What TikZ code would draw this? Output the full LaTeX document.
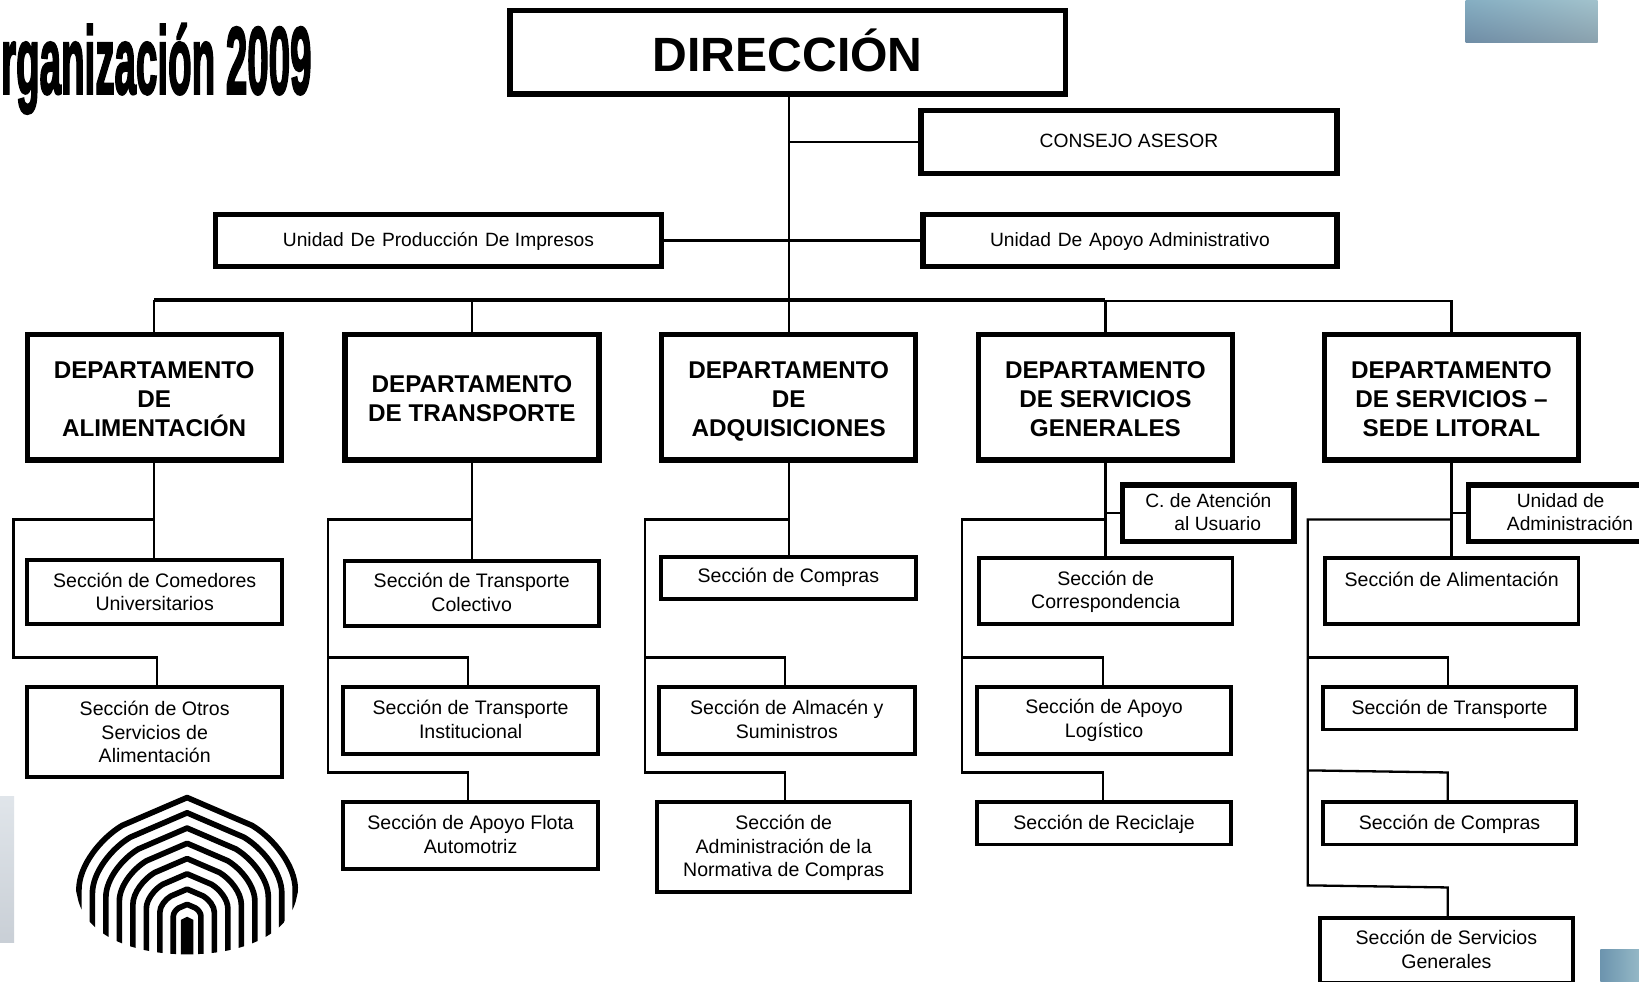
\documentclass[tikz,border=0pt]{standalone}
\usepackage{fontspec}
\usetikzlibrary{shadings}
\setmainfont{Liberation Sans}
\newfontfamily\ttlfont[FakeBold=3]{Liberation Sans Bold}
\definecolor{tlA}{HTML}{85AEC2}
\definecolor{tlB}{HTML}{A2C2CC}
\definecolor{tlC}{HTML}{6F8DA6}
\definecolor{tlD}{HTML}{8BA2AE}
\definecolor{brA}{HTML}{6C94AE}
\definecolor{brB}{HTML}{94B8C6}
\definecolor{lfA}{HTML}{C9CFD6}
\definecolor{lfB}{HTML}{E0E5EA}
\tikzset{
  x=1pt,y=-1pt,
  basebox/.style={draw=black,fill=white,inner sep=0pt,outer sep=0pt,align=center,text=black},
  headbox/.style={basebox,line width=5pt,font=\fontsize{46}{50}\selectfont\bfseries},
  deptbox/.style={basebox,line width=5pt,font=\fontsize{23.2}{27.7}\selectfont\bfseries},
  unitbox/.style={basebox,line width=5pt,font=\fontsize{18.4}{22}\selectfont},
  secbox/.style={basebox,line width=3.6pt,font=\fontsize{18.7}{22.3}\selectfont},
  conn/.style={draw=black,line width=2.2pt},
  bus/.style={draw=black,line width=3.2pt},
  stripe/.style={draw=black,line width=5.4pt,line join=round}
}
\newcommand\bxnode[6]{%
  \pgfmathsetmacro\bxw{#4-#2}\pgfmathsetmacro\bxh{#5-#3}%
  \pgfmathsetmacro\bxcx{(#2+#4)/2}\pgfmathsetmacro\bxcy{(#3+#5)/2}%
  \node[#1,minimum width=\bxw pt,minimum height=\bxh pt] (#6) at (\bxcx,\bxcy)}
% text nudges: extra height above the first line, or extra depth below the last
\newcommand\nudgedn[1]{\rule{0pt}{\dimexpr 14pt+#1\relax}}
\newcommand\nudgeup[1]{\rule[-#1]{0pt}{#1}}
\newcommand\dtop{\rule{0pt}{19.5pt}}
\newcommand\gapsp{\hspace{6.5pt}}
\begin{document}
\begin{tikzpicture}
\useasboundingbox (0,0) rectangle (1568,939.4);
\fill[white] (0,0) rectangle (1568,939.4);
% corner decorations
\shade[lower left=tlC,upper left=tlA,lower right=tlD,upper right=tlB] (1402,0) rectangle (1528.5,40.5);
\shade[lower left=brA,upper left=brA,lower right=brB,upper right=brB] (1531,908) rectangle (1568,939.4);
\shade[top color=lfB,bottom color=lfA] (0,762) rectangle (13.6,902);
% title
\node[anchor=base west,inner sep=0pt,xscale=.405,font=\fontsize{91}{91}\selectfont\ttlfont] (titulo) at (1,89.5) {rganización 2009};
% logo
\begin{scope}
\clip (70,840) -- (75,862) .. controls (85,897) and (130,913) .. (179,913) .. controls (228,913) and (273,897) .. (283,862) -- (288,840) -- (288,750) -- (70,750) -- cycle;
\foreach \k in {0,...,7}{
  \pgfmathsetmacro\w{103.5-12.9*\k}
  \pgfmathsetmacro\ap{763+14.6*\k}
  \pgfmathsetmacro\sx{0.6*\w}
  \pgfmathsetmacro\sy{\ap+0.43*\sx}
  \pgfmathsetmacro\by{\ap+0.85*\w}
  \draw[stripe] (179-\w,925) -- (179-\w,\by)
    .. controls (179-\w,\by-0.22*\w) and (179-\sx-0.2*\w,\sy+0.12*\w) .. (179-\sx,\sy)
    -- (179,\ap) -- (179+\sx,\sy)
    .. controls (179+\sx+0.2*\w,\sy+0.12*\w) and (179+\w,\by-0.22*\w) .. (179+\w,\by)
    -- (179+\w,925);
}
\fill[black] (173,880) -- (179,877) -- (185,880) -- (185,925) -- (173,925) -- cycle;
\end{scope}
% boxes
\bxnode{headbox}{488}{10}{1019}{90}{dir} {DIRECCIÓN\nudgeup{4pt}};
\bxnode{unitbox}{881}{106}{1279}{166}{cons} {CONSEJO ASESOR\nudgeup{2pt}};
\bxnode{unitbox}{206}{205}{633}{255}{uimp} {\nudgedn{2pt}Unidad\gapsp De\gapsp Producción\gapsp De Impresos};
\bxnode{unitbox}{883}{205}{1279}{255}{uapo} {\nudgedn{2pt}Unidad\gapsp De\gapsp Apoyo Administrativo};
\bxnode{deptbox}{26}{320}{269}{440}{d1} {\dtop DEPARTAMENTO\\DE\\ALIMENTACIÓN};
\bxnode{deptbox}{330}{320}{573}{440}{d2} {\dtop DEPARTAMENTO\\DE TRANSPORTE};
\bxnode{deptbox}{633}{320}{876}{440}{d3} {\dtop DEPARTAMENTO\\DE\\\smash{ADQUISICIONES}};
\bxnode{deptbox}{936}{320}{1179}{440}{d4} {\dtop DEPARTAMENTO\\DE SERVICIOS\\GENERALES};
\bxnode{deptbox}{1267}{320}{1510}{440}{d5} {\dtop DEPARTAMENTO\\DE SERVICIOS –\\SEDE LITORAL};
% sections
\bxnode{secbox}{26}{535.5}{270}{597}{s11} {Sección de Comedores\\Universitarios};
\bxnode{secbox}{26}{657.5}{270}{743}{s12} {Sección de Otros\\Servicios de\\Alimentación};
\bxnode{secbox}{329.5}{536.5}{573}{599}{s21} {Sección de Transporte\\Colectivo\nudgeup{2pt}};
\bxnode{secbox}{328.5}{657.5}{572}{721}{s22} {Sección de Transporte\\Institucional\nudgeup{2pt}};
\bxnode{secbox}{328.5}{767.5}{572}{831}{s23} {Sección de Apoyo Flota\\Automotriz\nudgeup{2pt}};
\bxnode{secbox}{632.5}{532.5}{876}{573}{s31} {\nudgeup{2pt}Sección de Compras};
\bxnode{secbox}{630.5}{657.5}{875}{721}{s32} {Sección de Almacén y\\Suministros\nudgeup{2pt}};
\bxnode{secbox}{628.5}{767.5}{871}{853}{s33} {\nudgedn{2pt}Sección de\\Administración de la\\Normativa de Compras};
\bxnode{secbox}{936.5}{533.5}{1179}{597}{s41} {\nudgedn{2pt}Sección de\\Correspondencia};
\bxnode{secbox}{934.5}{657.5}{1178}{721}{s42} {Sección de Apoyo\\Logístico};
\bxnode{secbox}{934.5}{767.5}{1178}{808}{s43} {\nudgedn{2pt}Sección de Reciclaje};
\bxnode{unitbox}{1074}{464}{1238}{518}{cau} {C. de Atención\\\hspace*{18pt}al Usuario\nudgeup{3pt}};
\bxnode{secbox}{1267.5}{533.5}{1510}{597}{s51} {Sección de Alimentación\\\mbox{}};
\bxnode{secbox}{1265.5}{657.5}{1508}{698}{s52} {\nudgedn{2pt}Sección de Transporte};
\bxnode{secbox}{1265.5}{767.5}{1508}{808}{s53} {\nudgedn{2pt}Sección de Compras};
\bxnode{secbox}{1262.5}{878.5}{1505}{940}{s54} {Sección de Servicios\\Generales\nudgeup{2pt}};
\bxnode{unitbox}{1405}{464}{1600}{518}{uadm} {\hspace*{-19pt}Unidad de\\\hspace*{-1pt}Administración\nudgeup{2pt}};
% connectors: direction
\draw[conn] (d3.north |- dir.south) -- (d3.north);
\draw[conn] (d3.north |- cons.west) -- (cons.west);
\draw[conn] (uimp.east) -- (uapo.west);
\coordinate (busL) at (d1.north |- 0,287);
\coordinate (busM) at (d4.north |- 0,287);
\coordinate (busR) at (d5.north |- 0,288);
\draw[bus] (busL) -- (busM);
\draw[conn] (d4.north |- busR) -- (busR) -- (d5.north);
\draw[conn] (busL) -- (d1.north);
\draw[conn] (d2.north |- busL) -- (d2.north);
\draw[conn] (d4.north |- busL) -- (d4.north);
% department 1
\coordinate (r1a) at (13,497);
\coordinate (r1b) at (13,629);
\draw[conn] (d1.south) -- (d1.south |- s11.north);
\draw[conn] (d1.south |- r1a) -- (r1a) -- (r1b) -- (150,629) -- (150,656);
% department 2
\coordinate (r2a) at (314,497);
\coordinate (r2b) at (314,739);
\draw[conn] (d2.south) -- (d2.south |- s21.north);
\draw[conn] (d2.south |- r2a) -- (r2a) -- (r2b) -- (448,739) -- (448,766);
\draw[conn] (314,629) -- (448,629) -- (448,656);
% department 3
\coordinate (r3a) at (617,497);
\coordinate (r3b) at (617,739);
\draw[conn] (d3.south) -- (d3.south |- s31.north);
\draw[conn] (d3.south |- r3a) -- (r3a) -- (r3b) -- (751,739) -- (751,766);
\draw[conn] (617,629) -- (751,629) -- (751,656);
% department 4
\coordinate (r4a) at (920,497);
\coordinate (r4b) at (920,739);
\draw[conn] (d4.south) -- (d4.south |- s41.north);
\draw[conn] (d4.south |- cau.west) -- (cau.west);
\draw[conn] (d4.south |- r4a) -- (r4a) -- (r4b) -- (1055,739) -- (1055,766);
\draw[conn] (920,629) -- (1055,629) -- (1055,656);
% department 5
\coordinate (r5a) at (1251,497);
\coordinate (r5b) at (1251,847);
\draw[conn] (d5.south) -- (d5.south |- s51.north);
\draw[conn] (d5.south |- uadm.west) -- (uadm.west);
\draw[conn] (d5.south |- r5a) -- (r5a) -- (r5b) -- (1385,849) -- (1385,877);
\draw[conn] (1251,629) -- (1385,629) -- (1385,656);
\draw[conn] (1251,737) -- (1385,739) -- (1385,766);
\end{tikzpicture}
\end{document}
